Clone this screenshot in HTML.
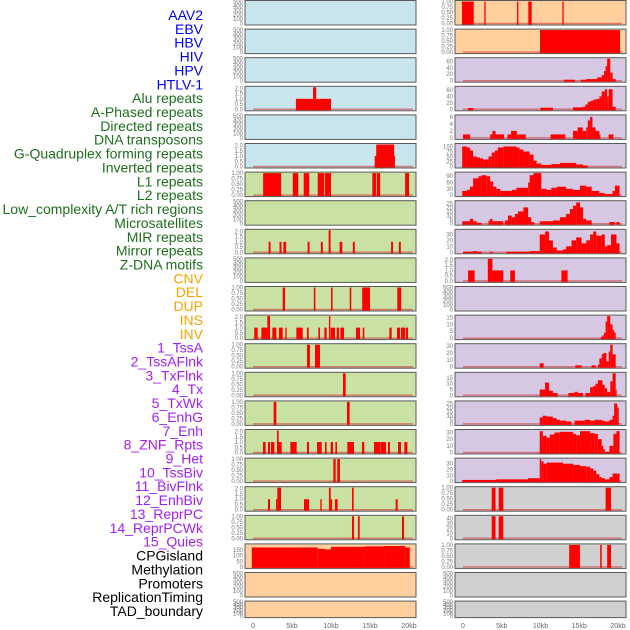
<!DOCTYPE html>
<html><head><meta charset="utf-8"><style>
html,body{margin:0;padding:0;background:#fff;}
svg{display:block;font-family:"Liberation Sans",sans-serif;}
</style></head><body>
<svg id="chart" width="630" height="630" viewBox="0 0 630 630" xmlns="http://www.w3.org/2000/svg"></svg>
<script>
const labels=["AAV2","EBV","HBV","HIV","HPV","HTLV-1","Alu repeats","A-Phased repeats","Directed repeats","DNA transposons","G-Quadruplex forming repeats","Inverted repeats","L1 repeats","L2 repeats","Low_complexity A/T rich regions","Microsatellites","MIR repeats","Mirror repeats","Z-DNA motifs","CNV","DEL","DUP","INS","INV","1_TssA","2_TssAFlnk","3_TxFlnk","4_Tx","5_TxWk","6_EnhG","7_Enh","8_ZNF_Rpts","9_Het","10_TssBiv","11_BivFlnk","12_EnhBiv","13_ReprPC","14_ReprPCWk","15_Quies","CPGisland","Methylation","Promoters","ReplicationTiming","TAD_boundary"];
const labelGroups=[0,0,0,0,0,0,1,1,1,1,1,1,1,1,1,1,1,1,1,2,2,2,2,2,3,3,3,3,3,3,3,3,3,3,3,3,3,3,3,4,4,4,4,4];
const xTicks=[0,5,10,15,20];
const xTickLabels=["0","5kb","10kb","15kb","20kb"];
const T500=[0,100,200,300,400,500], T1=[0,0.25,0.5,0.75,1], T2=[0,0.5,1,1.5,2];
// left column panels: bg, ymax, ticks, segments [startKb,endKb,value]
const leftBg=["b","b","b","b","b","b","g","g","g","g","g","g","g","g","g","g","g","g","g","o","o","o"];
const leftMax=[500,500,500,2.1,500,2.1,1,500,2.1,500,1,2.1,1,1,1,2.1,1,2.1,1,195,500,500];
const leftTicks=[T500,T500,T500,T2,T500,T2,T1,T500,T2,T500,T1,T2,T1,T1,T1,T2,T1,T2,T1,[0,50,100,150],T500,T500];
const leftSegs=[[],[],[],
 [[5.5,10.0,1],[7.7,8.1,2.1]],
 [],
 [[15.6,18.2,1],[15.8,18.1,2.1]],
 [[1.3,3.6,1],[5.1,5.8,1],[6.5,7.2,1],[8.3,9.1,1],[9.2,10.0,1],[15.3,15.8,1],[15.9,16.3,1],[19.5,20.0,1]],
 [],
 [[2.0,2.25,1],[3.4,3.65,1],[3.9,4.25,1],[7.0,7.25,1],[8.7,8.95,1],[9.7,9.95,2.1],[11.1,11.45,1],[12.8,13.05,1],[17.7,17.95,1],[18.7,18.95,1]],
 [],
 [[3.8,4.1,1],[7.8,8.0,1],[10.0,10.2,1],[12.4,12.6,1],[14.0,15.0,1],[18.5,19.0,1]],
 [[0.17,0.6,1],[1.07,1.84,1],[1.84,2.18,2.1],[2.48,2.99,1],[3.33,3.8,1],[4.15,4.32,1],[5.56,6.37,1],[6.92,7.14,1],[8.38,8.59,1],[9.15,9.44,1],[9.74,9.91,2.1],[9.96,10.51,1],[10.73,11.03,1],[11.2,11.67,1],[13.2,13.72,1],[14.06,14.27,1],[17.48,17.78,1],[18.46,18.85,1],[18.97,19.53,1],[19.62,19.87,1]],
 [[6.92,7.3,1],[7.95,8.59,1]],
 [[11.54,11.88,1]],
 [[2.65,2.99,1],[12.05,12.39,1]],
 [[1.28,1.62,1],[1.92,2.18,1],[2.31,2.74,1],[3.08,3.68,1],[3.08,3.29,2.1],[4.79,5.6,1],[6.92,7.18,1],[8.21,8.8,1],[9.23,9.44,1],[9.96,10.26,1],[10.56,10.77,1],[12.09,12.95,1],[13.97,14.27,1],[15.51,16.28,1],[16.32,17.05,1],[17.31,17.56,1],[18.59,18.97,1],[19.4,19.79,1]],
 [[10.3,10.6,1],[10.8,11.15,1]],
 [[1.92,2.18,1],[2.95,3.12,1],[3.12,3.59,2.1],[6.54,7.18,1],[8.63,8.8,1],[9.74,9.96,2.1],[9.96,10.15,1],[10.51,10.85,1],[12.69,12.9,2.1],[18.29,18.55,1]],
 [[12.69,12.95,1],[13.46,13.68,1],[19.1,19.36,1]],
 [[-0.15,8.3,172],[8.3,9.3,160],[9.3,10.0,155],[10.0,14.3,178],[14.3,16.8,182],[16.8,19.5,185],[19.5,20.1,172]],
 [],[]];
// right column
const rightBg=["o","o","p","p","p","p","p","p","p","p","p","p","p","p","p","p","p","y","y","y","y","y"];
const rightMax=[1,1,68,68,6.3,110,105,27,37,2.1,500,16,32,19,27,33,38,1,45,1,500,500];
const rightTicks=[T1,T1,[0,20,40,60],[0,20,40,60],[0,2,4,6],[0,25,50,75,100],[0,30,60,90],[0,5,10,15,20,25],[0,10,20,30],T2,T500,[0,5,10,15],[0,10,20,30],[0,5,10,15],[0,5,10,15,20,25],[0,10,20,30],[0,10,20,30],T1,[0,10,20,30,40],T1,T500,T500];
const rightSegs=[
 [[-0.13,1.38,1],[2.75,2.92,1],[6.97,7.14,1],[8.43,8.86,1],[12.82,12.99,1]],
 [[9.94,20.26,1]],
 [[13.0,14.45,3],[15.2,15.9,3],[15.9,17.3,5],[17.3,17.9,10],[17.9,18.2,17],[18.2,18.4,30],[18.4,18.6,45],[18.6,19.0,68],[19.0,19.3,25],[19.3,19.7,5]],
 [[0.65,1.3,4],[10.0,11.6,5],[14.2,15.5,6],[15.5,15.8,8],[15.8,16.1,15],[16.1,16.4,23],[16.4,16.8,26],[16.8,17.2,30],[17.2,17.6,32],[17.6,17.9,40],[17.9,18.3,55],[18.3,18.6,62],[18.6,18.8,40],[18.8,19.3,62],[19.3,19.7,8]],
 [[0,0.9,1],[3.5,3.8,1],[3.8,4.2,2],[4.2,5.3,1],[5.75,6.2,1],[6.2,6.95,2],[6.95,7.2,1],[7.2,8.1,1],[11.3,13.2,1],[14.2,14.8,2],[14.8,15.45,3],[15.45,15.9,2],[15.9,16.1,3],[16.1,16.4,5],[16.4,16.7,6],[16.7,17.1,3],[17.1,17.6,2],[17.6,17.7,1],[18.8,19.4,1]],
 [[-0.1,0.5,100],[0.5,0.9,95],[0.9,1.3,80],[1.3,1.8,50],[1.8,2.2,45],[2.2,2.6,40],[2.6,3.3,35],[3.3,3.7,50],[3.7,4.1,70],[4.1,4.5,80],[4.5,5.2,95],[5.2,6.9,100],[6.9,7.3,95],[7.3,7.8,85],[7.8,8.6,75],[8.6,9.1,60],[9.1,9.5,30],[9.5,10.1,15],[10.1,11.4,8],[11.4,12.5,12],[12.5,14.6,18],[14.6,15.5,10],[15.5,16.1,5]],
 [[-0.1,0.5,20],[0.5,0.9,25],[0.9,1.3,40],[1.3,2.0,80],[2.0,2.4,90],[2.4,3.0,95],[3.0,3.5,90],[3.5,3.9,65],[3.9,4.3,40],[4.3,4.8,30],[4.8,6.3,20],[6.3,6.9,25],[6.9,8.4,35],[8.4,8.6,60],[8.6,9.1,95],[9.1,10.1,105],[10.1,10.8,30],[10.8,11.4,25],[11.4,12.1,35],[12.1,13.3,40],[13.3,14.2,30],[14.2,15.1,25],[15.1,15.9,45],[15.9,16.6,40],[16.6,17.6,20],[17.6,18.3,10],[18.3,19.3,5],[19.3,19.6,20],[19.6,20.2,45]],
 [[-0.1,0.9,3],[0.9,1.3,6],[1.3,1.8,3],[1.8,2.4,1],[3.3,3.5,4],[3.5,3.8,6],[3.8,5.2,3],[5.4,5.8,4],[5.8,6.3,10],[6.3,6.7,8],[6.7,7.1,12],[7.1,7.8,15],[7.8,8.4,20],[8.4,8.8,8],[8.8,9.2,2],[9.9,11.6,3],[11.6,12.5,4],[12.5,13.3,8],[13.3,13.8,12],[13.8,14.2,18],[14.2,14.6,22],[14.6,15.1,26],[15.1,15.5,20],[15.5,15.9,6],[15.9,16.6,4],[18.9,19.6,2],[19.8,20.2,2]],
 [[0,1.3,1],[1.3,1.8,2],[1.8,2.4,1],[3.5,3.8,1],[5.6,8.6,1],[8.6,9.9,2],[9.9,10.6,30],[10.6,11.1,35],[11.1,11.6,20],[11.6,12.1,8],[12.1,12.9,3],[12.9,13.3,5],[13.3,14.0,10],[14.0,14.6,20],[14.6,15.3,25],[15.3,15.9,15],[15.9,16.4,20],[16.4,16.8,30],[16.8,17.2,35],[17.2,17.9,28],[17.9,18.3,30],[18.3,18.6,10],[18.6,19.1,12],[19.1,19.8,30],[19.8,20.2,15]],
 [[0.65,1.5,1],[3.2,3.8,2.1],[3.8,5.2,1],[6.1,6.7,1],[12.7,13.5,1]],
 [],
 [[17.8,18.0,1],[18.0,18.2,2],[18.2,18.4,4],[18.4,18.6,12],[18.6,19.0,16],[19.0,19.3,10],[19.3,19.5,6],[19.5,19.7,4]],
 [[9.9,10.4,5],[14.5,15.3,2],[16.6,17.1,2],[17.4,17.6,3],[17.6,17.9,12],[17.9,18.1,18],[18.1,18.5,20],[18.5,18.8,8],[18.8,19.0,22],[19.0,19.3,32],[19.3,19.7,18]],
 [[9.9,10.6,5],[10.6,11.1,11],[11.1,11.6,4],[11.6,12.2,2],[13.6,14.4,2],[14.4,14.8,3],[14.8,15.5,2],[15.8,16.4,2],[16.4,16.8,7],[16.8,17.1,8],[17.1,17.4,10],[17.4,18.0,13],[18.0,18.3,9],[18.3,18.6,6],[18.6,19.0,3],[19.0,19.3,12],[19.3,19.7,19],[19.7,19.8,5]],
 [[9.9,10.3,8],[10.3,10.8,10],[10.8,11.6,9],[11.6,12.1,7],[12.1,12.5,5],[12.5,13.3,4],[13.3,14.0,3],[14.4,15.7,4],[15.7,16.4,5],[16.4,17.0,4],[17.0,17.9,5],[17.9,18.3,4],[18.3,18.9,3],[18.9,19.3,5],[19.3,19.5,10],[19.5,19.9,25],[19.9,20.1,20]],
 [[9.9,10.3,32],[10.3,10.8,25],[10.8,11.2,22],[11.2,11.8,27],[11.8,12.5,30],[12.5,14.2,31],[14.2,14.6,28],[14.6,15.1,26],[15.1,16.4,32],[16.4,17.0,29],[17.0,17.4,28],[17.4,17.9,20],[17.9,18.1,10],[18.1,18.3,5],[18.3,18.9,1],[18.9,19.4,10],[19.4,19.8,28],[19.8,20.2,32]],
 [[-0.1,4.3,2],[4.3,8.4,3],[8.4,9.9,5],[9.9,10.1,38],[10.1,10.4,34],[10.4,10.8,30],[10.8,12.9,32],[12.9,14.2,30],[14.2,15.1,28],[15.1,15.9,26],[15.9,16.4,25],[16.4,16.8,22],[16.8,17.2,18],[17.2,17.6,12],[17.6,17.9,7],[17.9,18.3,5],[18.3,18.9,3],[18.9,19.3,7],[19.3,20.2,13]],
 [[3.7,4.2,1],[4.6,5.2,1],[18.4,19.1,1]],
 [[3.7,4.2,45],[4.6,5.2,45]],
 [[13.7,15.1,1],[17.7,17.9,1],[18.6,19.1,1]],
 [],[]];
</script>
<script>
const NS="http://www.w3.org/2000/svg";
const svg=document.getElementById("chart");
const bgColors={b:"#c8e4ec",g:"#c9e1a3",o:"#ffd09e",p:"#d6c8e3",y:"#d0d0d0"};
const labelColors=["#0000ee","#1e6e1e","#f5a300","#a020f0","#000000"];
function mk(tag,attrs){const e=document.createElementNS(NS,tag);for(const k in attrs)e.setAttribute(k,attrs[k]);svg.appendChild(e);return e;}
const cols=[{x0:245,x1:416,z:253,k:7.8,bg:leftBg,mx:leftMax,tk:leftTicks,sg:leftSegs,name:"left"},
            {x0:455,x1:626,z:463,k:7.75,bg:rightBg,mx:rightMax,tk:rightTicks,sg:rightSegs,name:"right"}];
// labels
labels.forEach((t,i)=>{
  const e=mk("text",{x:203,y:15+i*13.86+5,"text-anchor":"end","font-size":"14",fill:labelColors[labelGroups[i]]});
  e.textContent=t;
  
  
});
cols.forEach(c=>{
  const xs=kb=>c.z+kb*c.k;
  for(let i=0;i<22;i++){
    const top=i*28.6, h=(i===21?17:25);
    const bot=top+h-1.5, span=h-3;
    const ys=v=>bot-(v/c.mx[i])*span;
    const r=mk("rect",{x:c.x0,y:top+0.5,width:c.x1-c.x0,height:h-0.5,fill:bgColors[c.bg[i]],stroke:"#5a5a5a","stroke-width":"1"});
    
    
    c.tk[i].forEach(v=>{
      const y=ys(Math.min(v,c.mx[i]));
      const t=mk("text",{x:c.x0-2,y:y+2,"text-anchor":"end","font-size":"6",fill:"#777"});
      t.textContent=String(v%1===0?v:v.toFixed(2)).replace(/^0\.5$/,"0.50");
      if(c.mx[i]<=1.05) t.textContent=v.toFixed(2);
      else if(c.mx[i]<=2.2) t.textContent=v.toFixed(1);
      else t.textContent=String(v);
      
      
    });
    if(c.sg[i].length){
      const bl=mk("line",{x1:xs(0),x2:xs(20.5),y1:bot,y2:bot,stroke:"#d23a3a","stroke-opacity":"0.6","stroke-width":"1.5"});
      
      
    }
    c.sg[i].forEach(s=>{
      const y=ys(s[2]);
      const b=mk("rect",{x:xs(s[0]),y:y,width:Math.max(1,xs(s[1])-xs(s[0])),height:bot+1-y,fill:"#ff0000"});
      
      
    });
  }
  xTicks.forEach((v,j)=>{
    const t=mk("text",{x:xs(v),y:628,"text-anchor":"middle","font-size":"7",fill:"#666"});
    t.textContent=xTickLabels[j];
    
    
  });
});
</script>
</body></html>
